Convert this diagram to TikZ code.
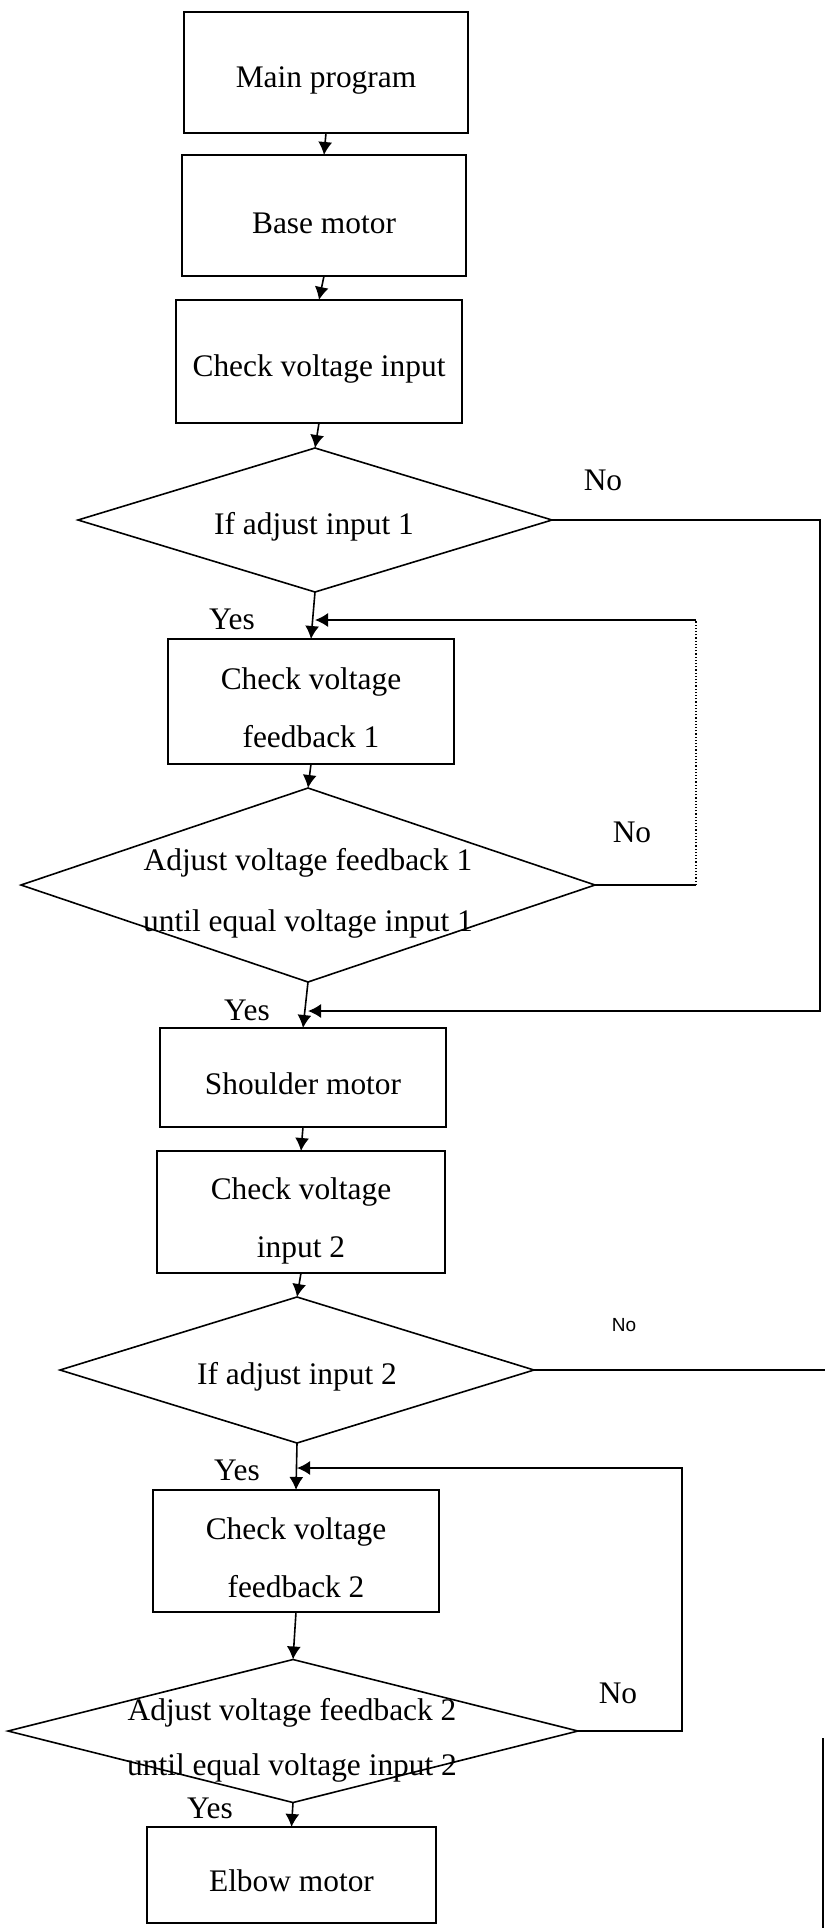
\documentclass[tikz,border=0pt]{standalone}
\usepackage{fontspec}
\setmainfont{Liberation Serif}
\newfontfamily\labsans{Liberation Sans}
\usetikzlibrary{shapes.geometric,arrows.meta}
\begin{document}
\begin{tikzpicture}[x=0.5pt,y=-0.5pt,line width=0.8pt,
  every node/.style={font=\fontsize{15.7}{29}\selectfont},
  box/.style={draw, rectangle, inner sep=0pt, outer sep=0pt},
  dia/.style={draw, diamond, inner sep=0pt, outer sep=0pt},
  txt/.style={align=center, inner sep=0pt},
  conn/.style={-{Latex[length=6.5pt,width=7pt]}},
  lab/.style={inner sep=0pt},
  sanslab/.style={inner sep=0pt, font=\labsans\fontsize{9.5}{11}\selectfont}
]
\useasboundingbox (0,0) rectangle (825,1928);

% boxes and decisions (shapes)
\node[box, minimum width=142pt, minimum height=60.5pt] (b1) at (326,72.5) {};
\node[box, minimum width=142pt, minimum height=60.5pt] (b2) at (324,215.5) {};
\node[box, minimum width=143pt, minimum height=61.5pt] (b3) at (319,361.5) {};
\node[dia, minimum width=237pt, minimum height=72pt] (d1) at (315,520) {};
\node[box, minimum width=143pt, minimum height=62.5pt] (b4) at (311,701.5) {};
\node[dia, minimum width=287pt, minimum height=97pt] (d2) at (308,885) {};
\node[box, minimum width=143pt, minimum height=49.5pt] (b5) at (303,1077.5) {};
\node[box, minimum width=144pt, minimum height=61pt] (b6) at (301,1212) {};
\node[dia, minimum width=237pt, minimum height=73pt] (d3) at (297,1370) {};
\node[box, minimum width=143pt, minimum height=61pt] (b7) at (296,1551) {};
\node[dia, minimum width=285pt, minimum height=71.5pt] (d4) at (293,1731) {};
\node[box, minimum width=144.5pt, minimum height=48pt] (b8) at (291.5,1875) {};

% texts
\node[txt] (b1t) at (326,80) {Main program};
\node[txt] (b2t) at (324,223) {Base motor};
\node[txt] (b3t) at (319,369) {Check voltage input};
\node[txt] (d1t) at (314,527) {If adjust input 1};
\node[txt] (b4t) at (311,708) {Check voltage\\feedback 1};
\node[txt, font=\fontsize{15.7}{30.5}\selectfont] (d2t) at (308,893) {Adjust voltage feedback 1\\until equal voltage input 1};
\node[txt] (b5t) at (303,1084) {Shoulder motor};
\node[txt] (b6t) at (301,1221) {Check voltage\\input 2};
\node[txt] (d3t) at (297,1377) {If adjust input 2};
\node[txt] (b7t) at (296,1558) {Check voltage\\feedback 2};
\node[txt, font=\fontsize{15.7}{27.5}\selectfont] (d4t) at (292,1740) {Adjust voltage feedback 2\\until equal voltage input 2};
\node[txt] (b8t) at (291.5,1881) {Elbow motor};

% labels
\node[lab] (no1) at (603,480) {No};
\node[lab] (yes1) at (232,619) {Yes};
\node[lab] (no2) at (632,832) {No};
\node[lab] (yes2) at (247,1010) {Yes};
\node[sanslab] (no3) at (624,1325) {No};
\node[lab] (yes3) at (237,1470) {Yes};
\node[lab] (no4) at (618,1693) {No};
\node[lab] (yes4) at (210,1808) {Yes};

% routing points
\coordinate (l1t) at (696,620);
\coordinate (n1b) at (820,1011);
\coordinate (n3e) at (825,1376);
\coordinate (l2t) at (682,1468);
\coordinate (edgeT) at (823,1738);
\coordinate (edgeB) at (823,1928);

% main flow
\draw[conn] (b1.south) -- (b2.north);
\draw[conn] (b2.south) -- (b3.north);
\draw[conn] (b3.south) -- (d1.north);
\draw[conn] (d1.south) -- (b4.north);
\draw[conn] (b4.south) -- (d2.north);
\draw[conn] (d2.south) -- (b5.north);
\draw[conn] (b5.south) -- (b6.north);
\draw[conn] (b6.south) -- (d3.north);
\draw[conn] (d3.south) -- (b7.north);
\draw[conn] (b7.south) -- (d4.north);
\draw[conn] (d4.south) -- (b8.north);

% loop 1 (No of d2)
\draw (d2.east) -- (d2.east -| l1t);
\draw[densely dotted, line width=0.6pt] (d2.east -| l1t) -- (l1t);
\draw[conn] (l1t) -- (l1t -| d1.south);

% No of d1
\draw[conn] (d1.east) -- (d1.east -| n1b) -- (n1b) -- (n1b -| d2.south);

% No of d3
\draw (d3.east) -- (d3.east -| n3e);

% loop 2 (No of d4)
\draw[conn] (d4.east) -- (d4.east -| l2t) -- (l2t) -- (l2t -| d3.south);

% right edge fragment
\draw (edgeT) -- (edgeB);
\end{tikzpicture}
\end{document}
